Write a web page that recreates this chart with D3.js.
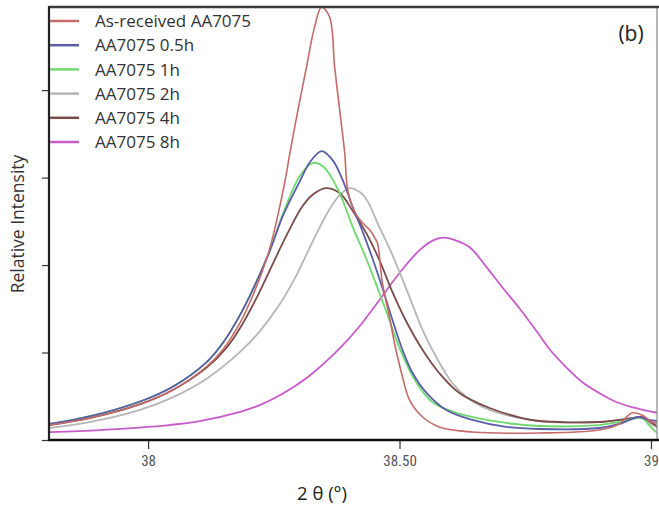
<!DOCTYPE html>
<html>
<head>
<meta charset="utf-8">
<script src="https://cdn.jsdelivr.net/npm/d3@7"></script>
<style>
  html, body { margin: 0; padding: 0; background: #fff; }
  svg { display: block; }
</style>
</head>
<body>
<svg id="chart" width="659" height="506"></svg>
<script>
// ---------- DATA ----------
const seriesNames = ["As-received AA7075", "AA7075 0.5h", "AA7075 1h", "AA7075 2h", "AA7075 4h", "AA7075 8h"];
const seriesColors = ["#c56a68", "#5a5ea8", "#6fd86f", "#b6b6b6", "#7b4a4a", "#c75bcb"];

const asReceived = [
  [37.804,0.171],[37.885,0.252],[37.984,0.410],[38.050,0.575],[38.117,0.843],[38.149,1.035],
  [38.183,1.341],[38.202,1.569],[38.222,1.849],[38.242,2.189],[38.272,2.950],[38.282,3.280],
  [38.298,3.771],[38.315,4.263],[38.331,4.720],[38.345,4.950],[38.361,4.834],[38.371,4.263],
  [38.381,3.771],[38.391,3.280],[38.397,2.857],[38.411,2.606],[38.427,2.480],[38.441,2.400],
  [38.450,2.320],[38.456,2.251],[38.466,1.794],[38.480,1.406],[38.490,1.109],[38.504,0.766],
  [38.520,0.457],[38.546,0.263],[38.579,0.149],[38.645,0.091],[38.778,0.080],[38.897,0.114],
  [38.937,0.183],[38.962,0.309],[38.982,0.286],[39.002,0.206],[39.014,0.194]
];
const h05 = [
  [37.804,0.183],[37.885,0.272],[37.984,0.440],[38.050,0.612],[38.117,0.893],[38.149,1.111],
  [38.183,1.431],[38.208,1.716],[38.242,2.161],[38.268,2.561],[38.302,2.960],[38.321,3.170],
  [38.345,3.303],[38.367,3.200],[38.387,2.971],[38.407,2.663],[38.427,2.377],[38.446,2.080],
  [38.466,1.737],[38.486,1.371],[38.506,1.029],[38.526,0.766],[38.554,0.537],[38.593,0.343],
  [38.645,0.229],[38.712,0.149],[38.778,0.126],[38.897,0.137],[38.937,0.183],[38.976,0.263],
  [38.996,0.229],[39.014,0.217]
];
const h1 = [
  [37.804,0.183],[37.885,0.272],[37.984,0.440],[38.050,0.612],[38.117,0.893],[38.149,1.111],
  [38.183,1.431],[38.208,1.716],[38.242,2.161],[38.268,2.580],[38.302,3.020],[38.327,3.166],
  [38.341,3.154],[38.355,3.086],[38.381,2.823],[38.407,2.434],[38.435,2.057],[38.460,1.680],
  [38.480,1.371],[38.500,1.051],[38.534,0.651],[38.565,0.434],[38.613,0.309],[38.698,0.206],
  [38.778,0.160],[38.897,0.171],[38.937,0.206],[38.982,0.251],[38.996,0.171],[39.010,0.091],
  [39.014,0.080]
];
const h2 = [
  [37.804,0.137],[37.885,0.206],[37.984,0.345],[38.050,0.490],[38.117,0.704],[38.183,1.008],
  [38.222,1.242],[38.262,1.554],[38.296,1.894],[38.327,2.266],[38.361,2.640],[38.381,2.800],
  [38.401,2.880],[38.421,2.834],[38.435,2.743],[38.460,2.434],[38.486,2.114],[38.520,1.634],
  [38.546,1.257],[38.573,0.949],[38.605,0.651],[38.633,0.491],[38.679,0.343],[38.778,0.217],
  [38.897,0.206],[38.937,0.229],[38.982,0.251],[39.002,0.171],[39.014,0.149]
];
const h4 = [
  [37.804,0.171],[37.885,0.252],[37.984,0.410],[38.050,0.575],[38.117,0.830],[38.157,1.062],
  [38.183,1.280],[38.216,1.627],[38.242,1.939],[38.276,2.347],[38.308,2.680],[38.331,2.820],
  [38.353,2.880],[38.381,2.823],[38.407,2.617],[38.435,2.354],[38.460,2.057],[38.486,1.691],
  [38.514,1.349],[38.546,1.029],[38.579,0.766],[38.619,0.537],[38.679,0.366],[38.744,0.251],
  [38.778,0.217],[38.897,0.206],[38.962,0.251],[38.982,0.263],[39.002,0.194],[39.014,0.149]
];
const h8 = [
  [37.804,0.091],[37.905,0.114],[38.000,0.149],[38.103,0.217],[38.183,0.321],[38.222,0.399],
  [38.262,0.511],[38.321,0.735],[38.381,1.047],[38.421,1.303],[38.460,1.600],[38.500,1.909],
  [38.540,2.171],[38.570,2.290],[38.589,2.314],[38.608,2.290],[38.639,2.206],[38.673,1.977],
  [38.704,1.749],[38.738,1.509],[38.778,1.200],[38.798,1.040],[38.831,0.834],[38.863,0.663],
  [38.897,0.537],[38.931,0.434],[38.962,0.377],[39.014,0.309]
];
const seriesData = [asReceived, h05, h1, h2, h4, h8];

const xTickValues = [38, 38.5, 39];
const xTickLabels = ["38", "38.50", "39"];
const yTickValues = [0, 1, 2, 3, 4];

// ---------- LAYOUT ----------
const svg = d3.select("#chart");
const L = 49, R = 657, T = 7, B = 440;

const x = d3.scaleLinear().domain([37.803, 39.012]).range([L, R]);
const y = d3.scaleLinear().domain([0, 4.95]).range([B, T]);

svg.append("defs").append("clipPath").attr("id", "plotclip")
  .append("rect").attr("x", L).attr("y", T - 1).attr("width", R - L).attr("height", B - T + 1);

// lines
const line = d3.line().x(d => x(d[0])).y(d => y(d[1])).curve(d3.curveCatmullRom.alpha(0.5));
const lineOrder = [5, 3, 4, 2, 1, 0];
const g = svg.append("g").attr("clip-path", "url(#plotclip)");
lineOrder.forEach(i => {
  g.append("path")
    .datum(seriesData[i])
    .attr("fill", "none")
    .attr("stroke", seriesColors[i])
    .attr("stroke-width", i === 0 ? 1.6 : 1.8)
    .attr("stroke-linejoin", "round")
    .attr("d", line);
});

// x axis
const xAxis = d3.axisBottom(x).tickValues(xTickValues)
  .tickFormat((d, i) => xTickLabels[i]).tickSize(9).tickPadding(6);
const gx = svg.append("g").attr("transform", `translate(0,${B})`).call(xAxis);
gx.select(".domain").remove();
gx.selectAll(".tick line").attr("stroke", "#333").attr("stroke-width", 1.2);
gx.selectAll(".tick text")
  .attr("font-family", "'Liberation Sans Narrow', 'Roboto Condensed', 'Liberation Sans', sans-serif")
  .attr("font-size", 15).attr("fill", "#555");

// y axis (ticks only)
const yAxis = d3.axisLeft(y).tickValues(yTickValues).tickFormat("").tickSize(7);
const gy = svg.append("g").attr("transform", `translate(${L},0)`).call(yAxis);
gy.select(".domain").remove();
gy.selectAll(".tick line").attr("stroke", "#333").attr("stroke-width", 1.2);

// frame
svg.append("line").attr("x1", R).attr("x2", R).attr("y1", T).attr("y2", B)
  .attr("stroke", "#888").attr("stroke-width", 1.2);
svg.append("line").attr("x1", L).attr("x2", R + 2).attr("y1", T).attr("y2", T)
  .attr("stroke", "#3a3a3a").attr("stroke-width", 2.5);
svg.append("line").attr("x1", L).attr("x2", L).attr("y1", T - 1).attr("y2", B + 1)
  .attr("stroke", "#222").attr("stroke-width", 2.2);
svg.append("line").attr("x1", L - 1).attr("x2", R + 2).attr("y1", B).attr("y2", B)
  .attr("stroke", "#111").attr("stroke-width", 2.5);

// legend
const legend = svg.append("g");
seriesNames.forEach((name, i) => {
  const yy = 21 + i * 24.2;
  legend.append("line").attr("x1", 50).attr("x2", 79).attr("y1", yy).attr("y2", yy)
    .attr("stroke", seriesColors[i]).attr("stroke-width", 2.5);
  legend.append("text").attr("x", 95).attr("y", yy).attr("dy", "0.36em")
    .attr("font-family", "'Open Sans', sans-serif").attr("font-size", 17)
    .attr("fill", "#333").text(name);
});

// panel label
svg.append("text").attr("x", 631).attr("y", 41).attr("text-anchor", "middle")
  .attr("font-family", "'Open Sans', sans-serif").attr("font-size", 21)
  .attr("fill", "#222").text("(b)");

// axis titles
svg.append("text").attr("x", 322).attr("y", 500).attr("text-anchor", "middle")
  .attr("font-family", "'Open Sans', sans-serif").attr("font-size", 18.5)
  .attr("fill", "#222").text("2 θ (°)");
svg.append("text").attr("transform", "translate(24,224) rotate(-90)")
  .attr("text-anchor", "middle")
  .attr("font-family", "'Open Sans', sans-serif").attr("font-size", 17.5)
  .attr("fill", "#333").text("Relative Intensity");
</script>
</body>
</html>
